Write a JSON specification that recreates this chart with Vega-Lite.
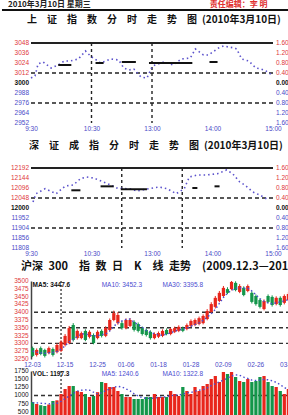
{
  "$schema": "https://vega.github.io/schema/vega-lite/v6.json",
  "padding": 0,
  "background": "white",
  "config": {"view": {"stroke": null}, "axis": {"labelFont": "Liberation Sans"}},
  "datasets": {
    "sh": [{"m":0,"v":3006},{"m":4,"v":3008.4},{"m":7,"v":3022.8},{"m":12,"v":3025.2},{"m":20,"v":3018},{"m":27,"v":3021.6},{"m":33,"v":3026.4},{"m":39,"v":3026.4},{"m":47,"v":3028.8},{"m":54,"v":3038.4},{"m":57,"v":3034.8},{"m":60,"v":3031.2},{"m":62,"v":3030},{"m":69,"v":3024},{"m":79,"v":3028.8},{"m":87,"v":3027.6},{"m":92,"v":3018},{"m":97,"v":3015.6},{"m":102,"v":3016.8},{"m":109,"v":3007.2},{"m":115,"v":3006},{"m":120,"v":3019.2},{"m":123,"v":3021.6},{"m":132,"v":3025.2},{"m":141,"v":3021.6},{"m":149,"v":3028.8},{"m":158,"v":3030},{"m":163,"v":3040.8},{"m":171,"v":3033.6},{"m":176,"v":3033.6},{"m":186,"v":3042},{"m":191,"v":3044.4},{"m":196,"v":3043.2},{"m":202,"v":3042},{"m":204,"v":3040.8},{"m":209,"v":3028.8},{"m":216,"v":3026.4},{"m":223,"v":3018},{"m":228,"v":3016.8},{"m":233,"v":3014.4},{"m":239,"v":3009.6}],
    "shavg": [{"m":27,"m2":40,"v":3021.6},{"m":64,"m2":72,"v":3024},{"m":90,"m2":104,"v":3025.2},{"m":117,"m2":160,"v":3024},{"m":177,"m2":185,"v":3025.2}],
    "shpct": [{"v":3048,"t":"1.60%"},{"v":3036,"t":"1.20%"},{"v":3024,"t":"0.80%"},{"v":3012,"t":"0.40%"},{"v":3000,"t":"0.00%"},{"v":2988,"t":"0.40%"},{"v":2976,"t":"0.80%"},{"v":2964,"t":"1.20%"},{"v":2952,"t":"1.60%"}],
    "sz": [{"m":2,"v":12028.8},{"m":5,"v":12068.6},{"m":14,"v":12092.6},{"m":25,"v":12068.6},{"m":34,"v":12105.6},{"m":42,"v":12110.4},{"m":49,"v":12140.6},{"m":55,"v":12148.8},{"m":62,"v":12144},{"m":72,"v":12124.8},{"m":79,"v":12110.4},{"m":85,"v":12096},{"m":99,"v":12091.2},{"m":105,"v":12081.6},{"m":115,"v":12091.2},{"m":127,"v":12100.8},{"m":135,"v":12092.6},{"m":144,"v":12068.6},{"m":152,"v":12092.6},{"m":157,"v":12148.8},{"m":165,"v":12158.4},{"m":174,"v":12158.4},{"m":185,"v":12164.6},{"m":194,"v":12182.4},{"m":200,"v":12164.6},{"m":207,"v":12124.8},{"m":212,"v":12110.4},{"m":220,"v":12076.8},{"m":227,"v":12062},{"m":234,"v":12043}],
    "szavg": [{"m":40,"m2":49,"v":12085},{"m":69,"m2":82,"v":12104},{"m":89,"m2":115,"v":12090},{"m":160,"m2":165,"v":12096},{"m":182,"m2":187,"v":12104}],
    "szpct": [{"v":12192,"t":"1.60%"},{"v":12144,"t":"1.20%"},{"v":12096,"t":"0.80%"},{"v":12048,"t":"0.40%"},{"v":12000,"t":"0.00%"},{"v":11952,"t":"0.40%"},{"v":11904,"t":"0.80%"},{"v":11856,"t":"1.20%"},{"v":11808,"t":"1.60%"}],
    "kp": [{"p":3250},{"p":3275},{"p":3300},{"p":3325},{"p":3350},{"p":3375},{"p":3400},{"p":3425},{"p":3450},{"p":3475},{"p":3500}],
    "vp": [{"p":0},{"p":250},{"p":500},{"p":750},{"p":1000},{"p":1250},{"p":1500},{"p":1750}],
    "k": [
      {"d":"12-03","o":3285,"h":3290,"l":3256,"c":3260,"v":798,"ma":3275,"vma":780},
      {"d":"12-04","o":3263,"h":3284,"l":3258,"c":3279,"v":737,"ma":3272,"vma":770},
      {"d":"12-07","o":3285,"h":3290,"l":3262,"c":3266,"v":700,"ma":3270,"vma":760},
      {"d":"12-08","o":3279,"h":3283,"l":3255,"c":3260,"v":676,"ma":3268,"vma":750},
      {"d":"12-09","o":3269,"h":3290,"l":3265,"c":3285,"v":720,"ma":3270,"vma":740},
      {"d":"12-10","o":3282,"h":3287,"l":3258,"c":3263,"v":829,"ma":3271,"vma":750},
      {"d":"12-11","o":3272,"h":3300,"l":3268,"c":3295,"v":850,"ma":3274,"vma":760},
      {"d":"12-14","o":3276,"h":3310,"l":3272,"c":3305,"v":1044,"ma":3282,"vma":820},
      {"d":"12-15","o":3295,"h":3330,"l":3290,"c":3324,"v":1197,"ma":3292,"vma":900},
      {"d":"12-16","o":3301,"h":3356,"l":3297,"c":3349,"v":1290,"ma":3305,"vma":980},
      {"d":"12-17","o":3359,"h":3365,"l":3306,"c":3311,"v":1290,"ma":3313,"vma":1060},
      {"d":"12-18","o":3317,"h":3345,"l":3312,"c":3340,"v":1136,"ma":3322,"vma":1130},
      {"d":"12-21","o":3317,"h":3338,"l":3313,"c":3333,"v":1105,"ma":3330,"vma":1160},
      {"d":"12-22","o":3340,"h":3345,"l":3307,"c":3311,"v":1044,"ma":3331,"vma":1170},
      {"d":"12-23","o":3321,"h":3342,"l":3316,"c":3337,"v":952,"ma":3326,"vma":1160},
      {"d":"12-24","o":3327,"h":3332,"l":3297,"c":3301,"v":983,"ma":3324,"vma":1100},
      {"d":"12-25","o":3317,"h":3342,"l":3313,"c":3337,"v":1100,"ma":3325,"vma":1050},
      {"d":"12-28","o":3340,"h":3345,"l":3319,"c":3324,"v":1412,"ma":3328,"vma":1080},
      {"d":"12-29","o":3324,"h":3355,"l":3320,"c":3349,"v":1380,"ma":3330,"vma":1150},
      {"d":"12-30","o":3343,"h":3380,"l":3339,"c":3375,"v":1259,"ma":3340,"vma":1200},
      {"d":"12-31","o":3375,"h":3405,"l":3371,"c":3397,"v":1259,"ma":3355,"vma":1250},
      {"d":"01-04","o":3365,"h":3400,"l":3360,"c":3391,"v":1136,"ma":3366,"vma":1280},
      {"d":"01-05","o":3365,"h":3372,"l":3344,"c":3349,"v":1044,"ma":3372,"vma":1260},
      {"d":"01-06","o":3349,"h":3380,"l":3345,"c":3375,"v":952,"ma":3377,"vma":1200},
      {"d":"01-07","o":3356,"h":3381,"l":3352,"c":3375,"v":952,"ma":3378,"vma":1140},
      {"d":"01-08","o":3369,"h":3374,"l":3338,"c":3343,"v":890,"ma":3368,"vma":1050},
      {"d":"01-11","o":3362,"h":3367,"l":3335,"c":3340,"v":890,"ma":3360,"vma":980},
      {"d":"01-12","o":3349,"h":3354,"l":3325,"c":3330,"v":890,"ma":3352,"vma":930},
      {"d":"01-13","o":3343,"h":3348,"l":3322,"c":3327,"v":952,"ma":3342,"vma":910},
      {"d":"01-14","o":3337,"h":3342,"l":3312,"c":3317,"v":952,"ma":3336,"vma":910},
      {"d":"01-15","o":3317,"h":3335,"l":3313,"c":3330,"v":1044,"ma":3331,"vma":920},
      {"d":"01-18","o":3321,"h":3338,"l":3317,"c":3333,"v":952,"ma":3327,"vma":940},
      {"d":"01-19","o":3324,"h":3345,"l":3320,"c":3340,"v":952,"ma":3326,"vma":950},
      {"d":"01-20","o":3343,"h":3348,"l":3326,"c":3330,"v":952,"ma":3330,"vma":960},
      {"d":"01-21","o":3330,"h":3350,"l":3326,"c":3346,"v":1136,"ma":3334,"vma":990},
      {"d":"01-22","o":3337,"h":3354,"l":3333,"c":3349,"v":1044,"ma":3339,"vma":1010},
      {"d":"01-25","o":3340,"h":3358,"l":3336,"c":3353,"v":983,"ma":3343,"vma":1010},
      {"d":"01-26","o":3349,"h":3354,"l":3336,"c":3340,"v":1259,"ma":3346,"vma":1040},
      {"d":"01-27","o":3346,"h":3364,"l":3342,"c":3359,"v":1136,"ma":3349,"vma":1080},
      {"d":"01-28","o":3356,"h":3377,"l":3352,"c":3372,"v":1044,"ma":3355,"vma":1090},
      {"d":"01-29","o":3359,"h":3380,"l":3355,"c":3375,"v":1259,"ma":3360,"vma":1130},
      {"d":"02-01","o":3362,"h":3386,"l":3358,"c":3381,"v":1136,"ma":3366,"vma":1160},
      {"d":"02-02","o":3365,"h":3393,"l":3361,"c":3388,"v":1290,"ma":3374,"vma":1180},
      {"d":"02-03","o":3378,"h":3410,"l":3374,"c":3404,"v":1351,"ma":3384,"vma":1230},
      {"d":"02-04","o":3401,"h":3432,"l":3397,"c":3426,"v":1504,"ma":3395,"vma":1300},
      {"d":"02-05","o":3417,"h":3452,"l":3412,"c":3446,"v":1596,"ma":3409,"vma":1360},
      {"d":"02-08","o":3436,"h":3468,"l":3432,"c":3462,"v":1412,"ma":3428,"vma":1420},
      {"d":"02-09","o":3452,"h":3484,"l":3448,"c":3478,"v":1719,"ma":3447,"vma":1470},
      {"d":"02-10","o":3474,"h":3480,"l":3458,"c":3462,"v":1658,"ma":3461,"vma":1530},
      {"d":"02-11","o":3474,"h":3500,"l":3470,"c":3497,"v":1719,"ma":3470,"vma":1600},
      {"d":"02-12","o":3494,"h":3499,"l":3467,"c":3471,"v":1566,"ma":3477,"vma":1630},
      {"d":"02-22","o":3465,"h":3490,"l":3461,"c":3484,"v":1443,"ma":3478,"vma":1620},
      {"d":"02-23","o":3478,"h":3483,"l":3451,"c":3455,"v":1412,"ma":3477,"vma":1560},
      {"d":"02-24","o":3468,"h":3489,"l":3464,"c":3484,"v":1504,"ma":3477,"vma":1520},
      {"d":"02-25","o":3462,"h":3467,"l":3428,"c":3433,"v":1412,"ma":3468,"vma":1470},
      {"d":"02-26","o":3452,"h":3457,"l":3421,"c":3426,"v":1443,"ma":3456,"vma":1460},
      {"d":"03-01","o":3439,"h":3444,"l":3412,"c":3417,"v":1566,"ma":3443,"vma":1470},
      {"d":"03-02","o":3410,"h":3441,"l":3406,"c":3436,"v":1596,"ma":3435,"vma":1490},
      {"d":"03-03","o":3452,"h":3457,"l":3428,"c":3433,"v":1412,"ma":3430,"vma":1480},
      {"d":"03-04","o":3449,"h":3454,"l":3418,"c":3423,"v":1290,"ma":3427,"vma":1450},
      {"d":"03-05","o":3426,"h":3451,"l":3422,"c":3446,"v":1259,"ma":3430,"vma":1400},
      {"d":"03-08","o":3446,"h":3451,"l":3418,"c":3423,"v":1136,"ma":3433,"vma":1330},
      {"d":"03-09","o":3430,"h":3457,"l":3425,"c":3452,"v":1044,"ma":3436,"vma":1240},
      {"d":"03-10","o":3439,"h":3464,"l":3435,"c":3458,"v":1197,"ma":3440,"vma":1190}
    ]
  },
  "spacing": 0,
  "vconcat": [
    {
      "width": 259, "height": 14,
      "layer": [
        {"data": {"values": [{"pos": -0.089, "y": 0.72, "t": "2010年3月10日 星期三"}]},
         "mark": {"type": "text", "align": "left", "baseline": "middle", "fontSize": 8, "font": "Noto Sans CJK SC", "fontWeight": "bold", "color": "#222"},
         "encoding": {"x": {"field": "pos", "type": "quantitative", "scale": {"domain": [0, 1], "nice": false, "zero": false}, "axis": null},
                      "y": {"field": "y", "type": "quantitative", "scale": {"domain": [0, 1]}, "axis": null},
                      "text": {"field": "t"}}},
        {"data": {"values": [{"pos": 0.69, "y": 0.72, "t": "责任编辑：李 明"}]},
         "mark": {"type": "text", "align": "left", "baseline": "middle", "fontSize": 8, "font": "Noto Sans CJK SC", "fontWeight": "bold", "color": "#e03030"},
         "encoding": {"x": {"field": "pos", "type": "quantitative", "axis": null}, "y": {"field": "y", "type": "quantitative", "axis": null}, "text": {"field": "t"}}},
        {"data": {"values": [{"a": -0.112, "b": 1, "y": 0.36}]},
         "mark": {"type": "rule", "strokeWidth": 2, "color": "#111"},
         "encoding": {"x": {"field": "a", "type": "quantitative", "axis": null}, "x2": {"field": "b"}, "y": {"field": "y", "type": "quantitative", "axis": null}}}
      ]
    },
    {
      "width": 242, "height": 80,
      "title": {"text": "上\u3000证\u3000指\u3000数\u3000分\u3000时\u3000走\u3000势\u3000图\u2002(2010年3月10日)", "offset": 15, "dx": 25, "fontSize": 10, "fontWeight": "bold", "font": "Noto Sans CJK SC", "color": "#111", "anchor": "start"},
      "layer": [
        {"data": {"values": [{"v": 3012}, {"v": 2976}]},
         "mark": {"type": "rule", "strokeDash": [4, 3], "strokeWidth": 1.3, "color": "#222"},
         "encoding": {"y": {"field": "v", "type": "quantitative", "scale": {"domain": [2952, 3048], "nice": false, "zero": false},
           "axis": {"title": null, "labels": false, "ticks": false, "domain": false, "grid": false, "minExtent": 29, "maxExtent": 29}}}},
        {"data": {"values": [{"v": 3048}]},
         "mark": {"type": "rule", "strokeWidth": 2, "color": "#222"},
         "encoding": {"y": {"field": "v", "type": "quantitative"}}},
        {"data": {"values": [{"m": 60}, {"m": 120}]},
         "mark": {"type": "rule", "strokeDash": [3, 3], "strokeWidth": 1.4, "color": "#222"},
         "encoding": {"x": {"field": "m", "type": "quantitative", "scale": {"domain": [0, 240], "nice": false, "zero": false},
           "axis": {"title": " ", "titleFontSize": 2, "titlePadding": 7, "values": [0, 30, 60, 90, 120, 150, 180, 210, 240],
             "labelExpr": "['9:30','10:00','10:30','11:00','13:00','13:30','14:00','14:30','15:00'][round(datum.value/30)]",
             "labelColor": "#4a4ac8", "labelFontSize": 6.5, "ticks": false, "domain": false, "grid": false, "labelPadding": 2, "labelFlush": false, "labelOverlap": false}}}},
        {"data": {"name": "sh"},
         "mark": {"type": "line", "color": "#5b52cc", "strokeWidth": 1.6, "strokeDash": [1.5, 3]},
         "encoding": {"x": {"field": "m", "type": "quantitative"}, "y": {"field": "v", "type": "quantitative"}}},
        {"data": {"name": "shavg"},
         "mark": {"type": "rule", "strokeWidth": 2, "color": "#111"},
         "encoding": {"x": {"field": "m", "type": "quantitative"}, "x2": {"field": "m2"}, "y": {"field": "v", "type": "quantitative"}}},
        {"data": {"name": "shpct"}, "transform": [{"filter": "datum.v > 3000"}],
         "mark": {"type": "text", "align": "right", "baseline": "middle", "dx": -2, "fontSize": 6.5, "font": "Liberation Sans", "color": "#e0383a"},
         "encoding": {"x": {"datum": 0, "type": "quantitative"}, "y": {"field": "v", "type": "quantitative"}, "text": {"field": "v", "type": "quantitative", "format": "d"}}},
        {"data": {"name": "shpct"}, "transform": [{"filter": "datum.v == 3000"}],
         "mark": {"type": "text", "align": "right", "baseline": "middle", "dx": -2, "fontSize": 6.5, "font": "Liberation Sans", "fontWeight": "bold", "color": "#111"},
         "encoding": {"x": {"datum": 0, "type": "quantitative"}, "y": {"field": "v", "type": "quantitative"}, "text": {"field": "v", "type": "quantitative", "format": "d"}}},
        {"data": {"name": "shpct"}, "transform": [{"filter": "datum.v < 3000"}],
         "mark": {"type": "text", "align": "right", "baseline": "middle", "dx": -2, "fontSize": 6.5, "font": "Liberation Sans", "color": "#4a4ac8"},
         "encoding": {"x": {"datum": 0, "type": "quantitative"}, "y": {"field": "v", "type": "quantitative"}, "text": {"field": "v", "type": "quantitative", "format": "d"}}},
        {"data": {"name": "shpct"}, "transform": [{"filter": "datum.v > 3000"}],
         "mark": {"type": "text", "align": "left", "baseline": "middle", "dx": 3, "fontSize": 6.5, "font": "Liberation Sans", "color": "#e0383a"},
         "encoding": {"x": {"datum": 240, "type": "quantitative"}, "y": {"field": "v", "type": "quantitative"}, "text": {"field": "t"}}},
        {"data": {"name": "shpct"}, "transform": [{"filter": "datum.v == 3000"}],
         "mark": {"type": "text", "align": "left", "baseline": "middle", "dx": 3, "fontSize": 6.5, "font": "Liberation Sans", "fontWeight": "bold", "color": "#111"},
         "encoding": {"x": {"datum": 240, "type": "quantitative"}, "y": {"field": "v", "type": "quantitative"}, "text": {"field": "t"}}},
        {"data": {"name": "shpct"}, "transform": [{"filter": "datum.v < 3000"}],
         "mark": {"type": "text", "align": "left", "baseline": "middle", "dx": 3, "fontSize": 6.5, "font": "Liberation Sans", "color": "#4a4ac8"},
         "encoding": {"x": {"datum": 240, "type": "quantitative"}, "y": {"field": "v", "type": "quantitative"}, "text": {"field": "t"}}}
      ]
    },
    {
      "width": 242, "height": 80,
      "title": {"text": "深\u3000证\u3000成\u3000指\u3000分\u3000时\u3000走\u3000势\u3000图\u2002(2010年3月10日)", "offset": 14, "dx": 27, "fontSize": 10, "fontWeight": "bold", "font": "Noto Sans CJK SC", "color": "#111", "anchor": "start"},
      "layer": [
        {"data": {"values": [{"v": 12048}, {"v": 11904}]},
         "mark": {"type": "rule", "strokeDash": [4, 3], "strokeWidth": 1.3, "color": "#222"},
         "encoding": {"y": {"field": "v", "type": "quantitative", "scale": {"domain": [11808, 12192], "nice": false, "zero": false},
           "axis": {"title": null, "labels": false, "ticks": false, "domain": false, "grid": false, "minExtent": 29, "maxExtent": 29}}}},
        {"data": {"values": [{"v": 12192}]},
         "mark": {"type": "rule", "strokeWidth": 2, "color": "#222"},
         "encoding": {"y": {"field": "v", "type": "quantitative"}}},
        {"data": {"values": [{"m": 90}, {"m": 150}]},
         "mark": {"type": "rule", "strokeDash": [3, 3], "strokeWidth": 1.4, "color": "#222"},
         "encoding": {"x": {"field": "m", "type": "quantitative", "scale": {"domain": [0, 240], "nice": false, "zero": false},
           "axis": {"title": " ", "titleFontSize": 2, "titlePadding": 2, "values": [0, 30, 60, 90, 120, 150, 180, 210, 240],
             "labelExpr": "['9:30','10:00','10:30','11:00','13:00','13:30','14:00','14:30','15:00'][round(datum.value/30)]",
             "labelColor": "#4a4ac8", "labelFontSize": 6.5, "ticks": false, "domain": false, "grid": false, "labelPadding": 2, "labelFlush": false, "labelOverlap": false}}}},
        {"data": {"name": "sz"},
         "mark": {"type": "line", "color": "#5b52cc", "strokeWidth": 1.6, "strokeDash": [1.5, 3]},
         "encoding": {"x": {"field": "m", "type": "quantitative"}, "y": {"field": "v", "type": "quantitative"}}},
        {"data": {"name": "szavg"},
         "mark": {"type": "rule", "strokeWidth": 2, "color": "#111"},
         "encoding": {"x": {"field": "m", "type": "quantitative"}, "x2": {"field": "m2"}, "y": {"field": "v", "type": "quantitative"}}},
        {"data": {"name": "szpct"}, "transform": [{"filter": "datum.v > 12000"}],
         "mark": {"type": "text", "align": "right", "baseline": "middle", "dx": -2, "fontSize": 6.5, "font": "Liberation Sans", "color": "#e0383a"},
         "encoding": {"x": {"datum": 0, "type": "quantitative"}, "y": {"field": "v", "type": "quantitative"}, "text": {"field": "v", "type": "quantitative", "format": "d"}}},
        {"data": {"name": "szpct"}, "transform": [{"filter": "datum.v == 12000"}],
         "mark": {"type": "text", "align": "right", "baseline": "middle", "dx": -2, "fontSize": 6.5, "font": "Liberation Sans", "fontWeight": "bold", "color": "#111"},
         "encoding": {"x": {"datum": 0, "type": "quantitative"}, "y": {"field": "v", "type": "quantitative"}, "text": {"field": "v", "type": "quantitative", "format": "d"}}},
        {"data": {"name": "szpct"}, "transform": [{"filter": "datum.v < 12000"}],
         "mark": {"type": "text", "align": "right", "baseline": "middle", "dx": -2, "fontSize": 6.5, "font": "Liberation Sans", "color": "#4a4ac8"},
         "encoding": {"x": {"datum": 0, "type": "quantitative"}, "y": {"field": "v", "type": "quantitative"}, "text": {"field": "v", "type": "quantitative", "format": "d"}}},
        {"data": {"name": "szpct"}, "transform": [{"filter": "datum.v > 12000"}],
         "mark": {"type": "text", "align": "left", "baseline": "middle", "dx": 3, "fontSize": 6.5, "font": "Liberation Sans", "color": "#e0383a"},
         "encoding": {"x": {"datum": 240, "type": "quantitative"}, "y": {"field": "v", "type": "quantitative"}, "text": {"field": "t"}}},
        {"data": {"name": "szpct"}, "transform": [{"filter": "datum.v == 12000"}],
         "mark": {"type": "text", "align": "left", "baseline": "middle", "dx": 3, "fontSize": 6.5, "font": "Liberation Sans", "fontWeight": "bold", "color": "#111"},
         "encoding": {"x": {"datum": 240, "type": "quantitative"}, "y": {"field": "v", "type": "quantitative"}, "text": {"field": "t"}}},
        {"data": {"name": "szpct"}, "transform": [{"filter": "datum.v < 12000"}],
         "mark": {"type": "text", "align": "left", "baseline": "middle", "dx": 3, "fontSize": 6.5, "font": "Liberation Sans", "color": "#4a4ac8"},
         "encoding": {"x": {"datum": 240, "type": "quantitative"}, "y": {"field": "v", "type": "quantitative"}, "text": {"field": "t"}}}
      ]
    },
    {
      "width": 259, "height": 78,
      "title": {"text": "沪深\u2002300\u3000指\u2002数\u2002日\u3000K\u3000线\u2002走势\u3000(2009.12.3—2010.3.10)", "offset": 6, "dx": 19, "fontSize": 11, "fontWeight": "bold", "font": "Noto Sans CJK SC", "color": "#111", "anchor": "start"},
      "layer": [
        {"data": {"values": [{"p": 3300}, {"p": 3350}, {"p": 3400}]},
         "mark": {"type": "rule", "strokeDash": [4, 3], "strokeWidth": 1.4, "color": "#333"},
         "encoding": {"y": {"field": "p", "type": "quantitative", "scale": {"domain": [3250, 3500], "nice": false, "zero": false},
           "axis": {"title": null, "labels": false, "ticks": false, "grid": false, "domain": true, "domainColor": "#444", "domainWidth": 1.5, "minExtent": 29, "maxExtent": 29}}}},
        {"data": {"name": "k"}, "transform": [{"filter": "datum.d == '12-14'"}],
         "mark": {"type": "rule", "strokeDash": [2, 2], "strokeWidth": 1.3, "color": "#333"},
         "encoding": {"x": {"field": "d", "type": "ordinal",
           "scale": {"domain": ["12-03","12-04","12-07","12-08","12-09","12-10","12-11","12-14","12-15","12-16","12-17","12-18","12-21","12-22","12-23","12-24","12-25","12-28","12-29","12-30","12-31","01-04","01-05","01-06","01-07","01-08","01-11","01-12","01-13","01-14","01-15","01-18","01-19","01-20","01-21","01-22","01-25","01-26","01-27","01-28","01-29","02-01","02-02","02-03","02-04","02-05","02-08","02-09","02-10","02-11","02-12","02-22","02-23","02-24","02-25","02-26","03-01","03-02","03-03","03-04","03-05","03-08","03-09","03-10"], "paddingInner": 0.2, "paddingOuter": 0},
           "axis": {"title": null, "values": ["12-03","12-15","12-25","01-06","01-18","01-28","02-09","02-26","03-10"], "labelAngle": 0, "labelColor": "#4a4ac8", "labelFontSize": 6.5, "ticks": false, "domain": false, "grid": false, "labelPadding": 2}}}},
        {"data": {"name": "k"},
         "mark": {"type": "rule", "strokeWidth": 1},
         "encoding": {"x": {"field": "d", "type": "ordinal"}, "y": {"field": "l", "type": "quantitative"}, "y2": {"field": "h"},
           "color": {"condition": {"test": "datum.c >= datum.o", "value": "#e8261c"}, "value": "#13964a"}}},
        {"data": {"name": "k"},
         "mark": {"type": "bar"},
         "encoding": {"x": {"field": "d", "type": "ordinal"}, "y": {"field": "o", "type": "quantitative"}, "y2": {"field": "c"},
           "color": {"condition": {"test": "datum.c >= datum.o", "value": "#e8261c"}, "value": "#13964a"}}},
        {"data": {"name": "k"},
         "mark": {"type": "line", "color": "#4b4bd0", "strokeWidth": 1.4, "strokeDash": [1.5, 2.5]},
         "encoding": {"x": {"field": "d", "type": "ordinal"}, "y": {"field": "ma", "type": "quantitative"}}},
        {"data": {"name": "kp"},
         "mark": {"type": "text", "align": "right", "baseline": "middle", "dx": -4, "fontSize": 6.5, "font": "Liberation Sans", "color": "#e0383a"},
         "encoding": {"x": {"datum": "12-03", "type": "ordinal"}, "y": {"field": "p", "type": "quantitative"}, "text": {"field": "p", "type": "quantitative", "format": "d"}}},
        {"data": {"values": [{"d": "12-03", "p": 3488, "t": "MA5: 3447.6"}]},
         "mark": {"type": "text", "align": "left", "baseline": "middle", "fontSize": 6.5, "font": "Liberation Sans", "fontWeight": "bold", "color": "#111"},
         "encoding": {"x": {"field": "d", "type": "ordinal"}, "y": {"field": "p", "type": "quantitative"}, "text": {"field": "t"}}},
        {"data": {"values": [{"d": "12-28", "p": 3488, "t": "MA10: 3452.3"}, {"d": "01-19", "p": 3488, "t": "MA30: 3395.8"}]},
         "mark": {"type": "text", "align": "left", "baseline": "middle", "fontSize": 6.5, "font": "Liberation Sans", "color": "#4b4bd0"},
         "encoding": {"x": {"field": "d", "type": "ordinal"}, "y": {"field": "p", "type": "quantitative"}, "text": {"field": "t"}}}
      ]
    },
    {
      "width": 259, "height": 57,
      "layer": [
        {"data": {"values": [{"p": 1000}]},
         "mark": {"type": "rule", "strokeDash": [4, 3], "strokeWidth": 1.4, "color": "#333"},
         "encoding": {"y": {"field": "p", "type": "quantitative", "scale": {"domain": [0, 1750], "nice": false},
           "axis": {"title": null, "labels": false, "ticks": false, "grid": false, "domain": true, "domainColor": "#444", "domainWidth": 1.5, "minExtent": 29, "maxExtent": 29}}}},
        {"data": {"name": "k"}, "transform": [{"filter": "datum.d == '12-14'"}],
         "mark": {"type": "rule", "strokeDash": [2, 2], "strokeWidth": 1.3, "color": "#333"},
         "encoding": {"x": {"field": "d", "type": "ordinal",
           "scale": {"domain": ["12-03","12-04","12-07","12-08","12-09","12-10","12-11","12-14","12-15","12-16","12-17","12-18","12-21","12-22","12-23","12-24","12-25","12-28","12-29","12-30","12-31","01-04","01-05","01-06","01-07","01-08","01-11","01-12","01-13","01-14","01-15","01-18","01-19","01-20","01-21","01-22","01-25","01-26","01-27","01-28","01-29","02-01","02-02","02-03","02-04","02-05","02-08","02-09","02-10","02-11","02-12","02-22","02-23","02-24","02-25","02-26","03-01","03-02","03-03","03-04","03-05","03-08","03-09","03-10"], "paddingInner": 0.2, "paddingOuter": 0},
           "axis": null}}},
        {"data": {"name": "k"},
         "mark": {"type": "bar"},
         "encoding": {"x": {"field": "d", "type": "ordinal"}, "y": {"field": "v", "type": "quantitative"},
           "color": {"condition": {"test": "datum.c >= datum.o", "value": "#e8261c"}, "value": "#13964a"}}},
        {"data": {"name": "k"},
         "mark": {"type": "line", "color": "#4b4bd0", "strokeWidth": 1.4, "strokeDash": [1.5, 2.5]},
         "encoding": {"x": {"field": "d", "type": "ordinal"}, "y": {"field": "vma", "type": "quantitative"}}},
        {"data": {"name": "vp"},
         "mark": {"type": "text", "align": "right", "baseline": "middle", "dx": -4, "fontSize": 6.5, "font": "Liberation Sans", "color": "#111"},
         "encoding": {"x": {"datum": "12-03", "type": "ordinal"}, "y": {"field": "p", "type": "quantitative"}, "text": {"field": "p", "type": "quantitative", "format": "d"}}},
        {"data": {"values": [{"d": "12-03", "p": 1660, "t": "VOL: 1197.3"}]},
         "mark": {"type": "text", "align": "left", "baseline": "middle", "fontSize": 6.5, "font": "Liberation Sans", "fontWeight": "bold", "color": "#111"},
         "encoding": {"x": {"field": "d", "type": "ordinal"}, "y": {"field": "p", "type": "quantitative"}, "text": {"field": "t"}}},
        {"data": {"values": [{"d": "12-28", "p": 1660, "t": "MA5: 1240.6"}, {"d": "01-19", "p": 1660, "t": "MA10: 1322.8"}]},
         "mark": {"type": "text", "align": "left", "baseline": "middle", "fontSize": 6.5, "font": "Liberation Sans", "color": "#4b4bd0"},
         "encoding": {"x": {"field": "d", "type": "ordinal"}, "y": {"field": "p", "type": "quantitative"}, "text": {"field": "t"}}}
      ]
    }
  ]
}
